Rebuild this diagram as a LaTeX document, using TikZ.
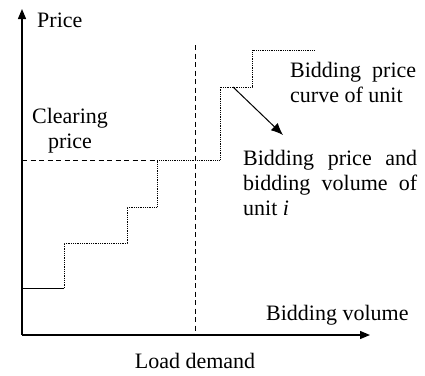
\documentclass[tikz,border=0pt]{standalone}
\usepackage{fontspec}
\setmainfont{Liberation Serif}
\usetikzlibrary{arrows.meta,positioning}
\tikzset{
  axisline/.style={line width=1.3pt,-{Triangle[length=10pt,width=8pt]}},
  guideline/.style={line width=0.9pt,dash pattern=on 5pt off 3.5pt},
  stepline/.style={line width=0.9pt,dash pattern=on 0.9pt off 0.9pt},
  pointer/.style={line width=1pt,-{Latex[length=12pt,width=10pt]}},
  plotlabel/.style={inner sep=0pt,font=\fontsize{22}{25}\selectfont},
  blocklabel/.style={plotlabel,align=justify}
}

\begin{document}
\begin{tikzpicture}[x=1pt,y=-1pt]
  \useasboundingbox (0,0) rectangle (425,375);
  % axes
  \coordinate (O) at (22,335);
  \coordinate (ytop) at (22,9);
  \coordinate (xend) at (370,335);
  \draw[axisline] (O) -- (ytop);
  \draw[axisline] (O) -- (xend);
  % load demand and clearing price
  \coordinate (dtop) at (195,45);
  \coordinate (dbot) at (195,335);
  \coordinate (cp) at (22,160);
  \coordinate (cpend) at (157,160);
  \draw[guideline] (dtop) -- (dbot);
  \draw[guideline] (cp) -- (cpend);
  % bidding price curve
  \coordinate (s0) at (22,288);
  \coordinate (s1) at (64,288);
  \coordinate (pick) at (233,87);
  \coordinate (tip) at (283,135);
  \draw[line width=0.9pt] (s0) -- (s1);
  \draw[stepline] (s1) -- (64,243) -- (127,243) -- (127,207) -- (157,207)
    -- (cpend) -- (220,160) -- (220,87) -- (252,87) -- (252,50) -- (315,50);
  \draw[pointer] (pick) -- (tip);
  % labels
  \node[plotlabel,anchor=base west] (price) at (37,27) {Price};
  \node[plotlabel,align=center,anchor=base] (clearing) at (70,148) {Clearing\\price};
  \node[blocklabel,text width=126pt,anchor=base west] (curvelbl) at (290,77)
    {Bidding price \linebreak curve of unit};
  \node[blocklabel,text width=174pt,anchor=base west] (bidlbl) at (243,165)
    {Bidding price and \linebreak bidding volume of \linebreak unit \textit{i}};
  \node[plotlabel,anchor=base west] (volume) at (266,320) {Bidding volume};
  \node[plotlabel,anchor=base] (demand) at (195,368) {Load demand};
\end{tikzpicture}
\end{document}
